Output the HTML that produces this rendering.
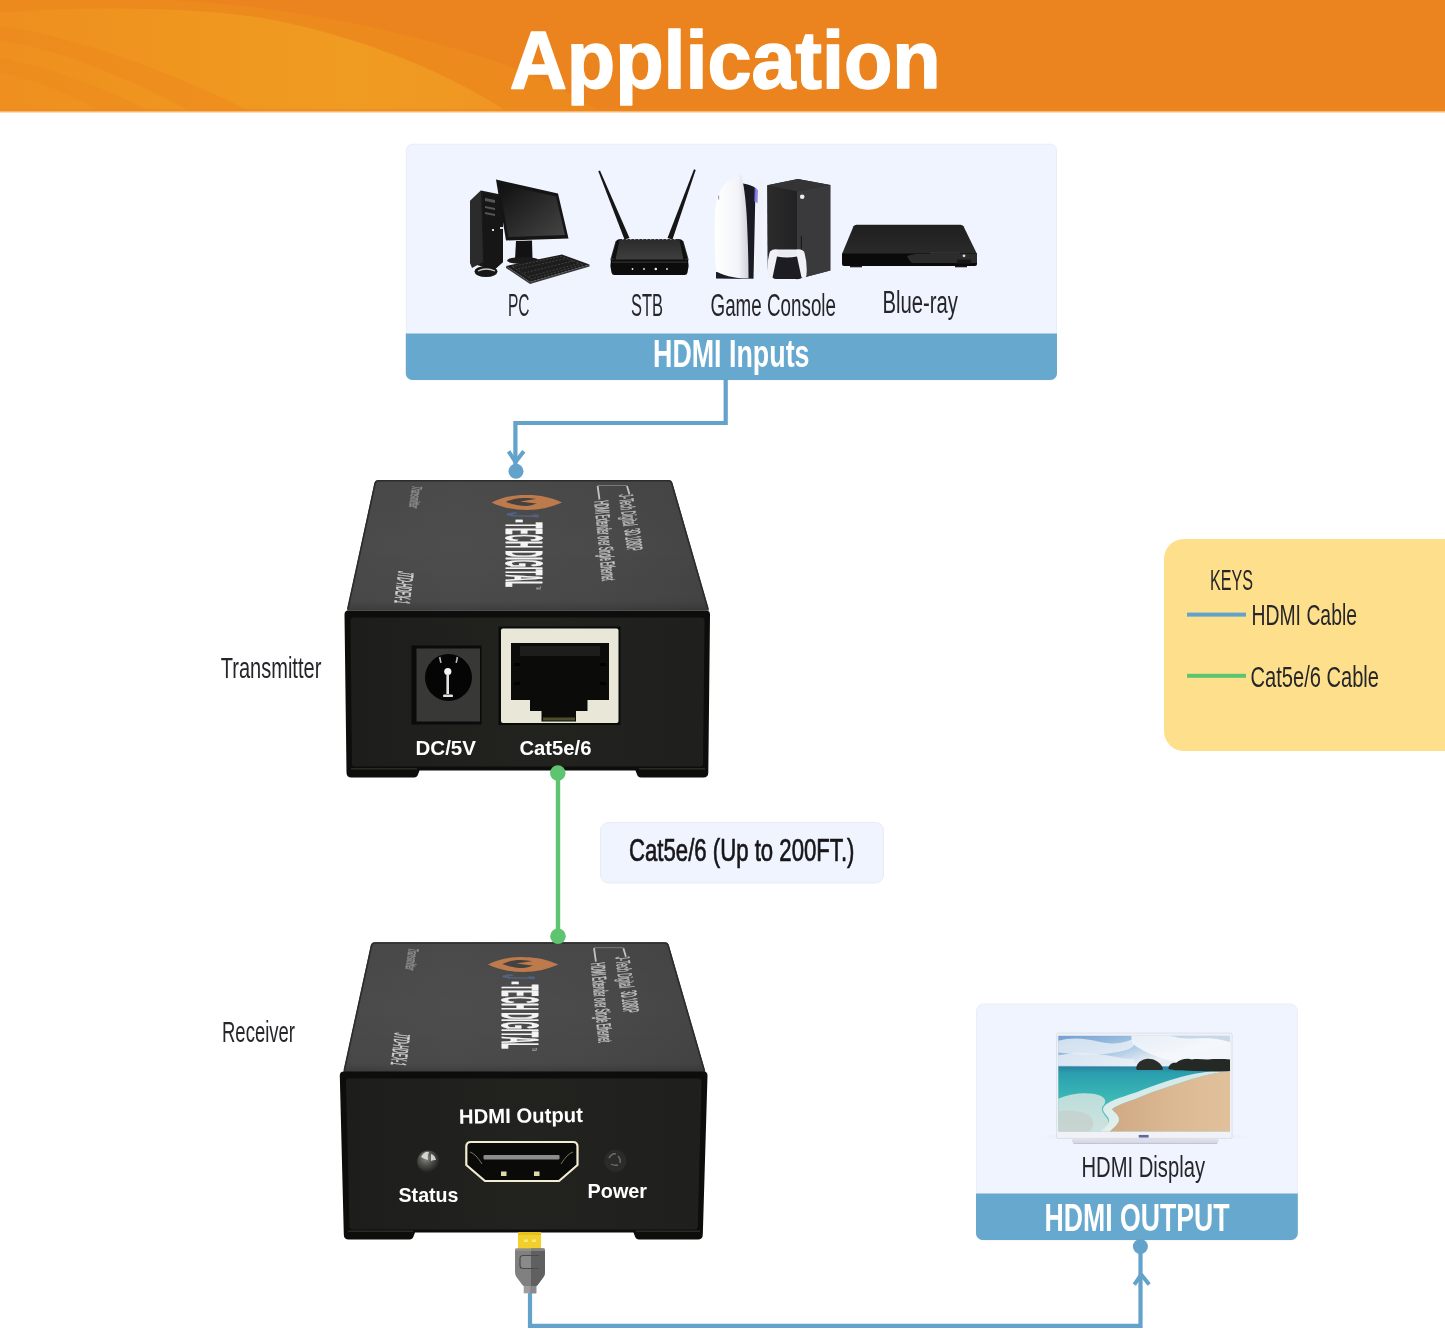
<!DOCTYPE html>
<html lang="en">
<head>
<meta charset="utf-8">
<title>Application</title>
<style>
html,body{margin:0;padding:0;background:#fff;}
body{width:1445px;height:1331px;overflow:hidden;position:relative;font-family:"Liberation Sans",sans-serif;}
svg{position:absolute;left:0;top:0;display:block;will-change:transform;}
text{font-family:"Liberation Sans",sans-serif;}
.lbl{fill:#26262a;}
.wb{fill:#fff;font-weight:bold;}
</style>
</head>
<body>
<svg width="1445" height="1331" viewBox="0 0 1445 1331">
<defs>
  <linearGradient id="hdrG" x1="0" y1="0" x2="0" y2="1">
    <stop offset="0" stop-color="#ec8420"/>
    <stop offset="0.5" stop-color="#ee8a20"/>
    <stop offset="1" stop-color="#f08c1f"/>
  </linearGradient>
  <linearGradient id="hdrSw" x1="0" y1="0" x2="1" y2="0">
    <stop offset="0" stop-color="#ee8f1f"/>
    <stop offset="0.35" stop-color="#ef961f"/>
    <stop offset="0.7" stop-color="#f09b22"/>
    <stop offset="1" stop-color="#ef9622"/>
  </linearGradient>
  <linearGradient id="hdrFade" x1="0" y1="0" x2="0" y2="1">
    <stop offset="0" stop-color="#f3a64e"/>
    <stop offset="1" stop-color="#ffffff"/>
  </linearGradient>
</defs>
<defs>
  <linearGradient id="topG" x1="0" y1="0" x2="1" y2="0">
    <stop offset="0" stop-color="#4a4a4a"/>
    <stop offset="0.3" stop-color="#4d4d4d"/>
    <stop offset="0.7" stop-color="#4a4a4a"/>
    <stop offset="1" stop-color="#454545"/>
  </linearGradient>
  <linearGradient id="topV" x1="0" y1="0" x2="0" y2="1">
    <stop offset="0" stop-color="#000" stop-opacity="0.04"/>
    <stop offset="0.5" stop-color="#000" stop-opacity="0"/>
    <stop offset="0.93" stop-color="#000" stop-opacity="0.04"/>
    <stop offset="1" stop-color="#000" stop-opacity="0.2"/>
  </linearGradient>
  <linearGradient id="frontG" x1="0" y1="0" x2="1" y2="0">
    <stop offset="0" stop-color="#1d1e1b"/>
    <stop offset="0.5" stop-color="#22231f"/>
    <stop offset="1" stop-color="#1f201d"/>
  </linearGradient>
  <radialGradient id="ledG" cx="0.4" cy="0.35" r="0.7">
    <stop offset="0" stop-color="#8a8a86"/>
    <stop offset="0.5" stop-color="#4a4a47"/>
    <stop offset="1" stop-color="#1a1a18"/>
  </radialGradient>
</defs>
<!-- ===== header band ===== -->
<g id="header">
  <rect x="0" y="0" width="1445" height="111" fill="#eb841e"/>
  <path d="M0,0 H173 C300,8 430,34 540,78 L600,111 H0 Z" fill="#ed8a1e"/>
  <path d="M0,12.5 C90,6 190,7 262,18 C340,32 430,62 506,111 H0 Z" fill="url(#hdrSw)"/>
  <path d="M0,26 C60,34 150,62 250,111 H190 C120,74 60,50 0,40 Z" fill="#ec891d" opacity="0.55"/>
  <path d="M0,58 C50,68 100,86 150,111 H100 C70,94 30,78 0,72 Z" fill="#ec891d" opacity="0.5"/>
  <rect x="0" y="109" width="1445" height="2" fill="#ee8720" opacity="0.6"/>
  <rect x="0" y="111" width="1445" height="2.5" fill="url(#hdrFade)"/>
  <text x="509.7" y="88" class="wb" font-size="82" textLength="431" lengthAdjust="spacingAndGlyphs" stroke="#fff" stroke-width="1.6" stroke-linejoin="round">Application</text>
</g>
<!-- ===== HDMI inputs panel ===== -->
<g id="inputs">
  <rect x="406.3" y="144.2" width="650.2" height="235.6" rx="6" ry="6" fill="#f0f4fe" stroke="#ebedf4" stroke-width="1"/>
  <path d="M405.8,333.6 H1057 V373.5 a6.5,6.5 0 0 1 -6.5,6.5 H412.3 a6.5,6.5 0 0 1 -6.5,-6.5 Z" fill="#67a8cf"/>
  <text x="653" y="366.8" class="wb" font-size="39.5" textLength="156.5" lengthAdjust="spacingAndGlyphs">HDMI Inputs</text>
  <text x="508" y="315.5" class="lbl" font-size="31" textLength="21.5" lengthAdjust="spacingAndGlyphs">PC</text>
  <text x="631" y="315.5" class="lbl" font-size="31" textLength="32" lengthAdjust="spacingAndGlyphs">STB</text>
  <text x="710.5" y="315.5" class="lbl" font-size="31" textLength="125.5" lengthAdjust="spacingAndGlyphs">Game Console</text>
  <text x="882.5" y="313" class="lbl" font-size="31" textLength="75.5" lengthAdjust="spacingAndGlyphs">Blue-ray</text>
</g>

<!-- ===== HDMI output panel ===== -->
<g id="output">
  <rect x="976.5" y="1004" width="320.8" height="236" rx="7" ry="7" fill="#f0f4fe" stroke="#ebedf4" stroke-width="1"/>
  <path d="M976,1193.5 H1297.8 V1233.5 a6.5,6.5 0 0 1 -6.5,6.5 H982.5 a6.5,6.5 0 0 1 -6.5,-6.5 Z" fill="#67a8cf"/>
  <text x="1044.5" y="1230.5" class="wb" font-size="39" textLength="185" lengthAdjust="spacingAndGlyphs">HDMI OUTPUT</text>
  <text x="1081.5" y="1177.3" class="lbl" font-size="29.5" textLength="123.5" lengthAdjust="spacingAndGlyphs">HDMI Display</text>
</g>

<!-- ===== keys legend ===== -->
<g id="keys">
  <path d="M1445,539 H1184 a20,20 0 0 0 -20,20 V731 a20,20 0 0 0 20,20 H1445 Z" fill="#fddf8c"/>
  <text x="1210" y="590.3" class="lbl" font-size="29.5" textLength="43" lengthAdjust="spacingAndGlyphs">KEYS</text>
  <rect x="1187" y="612.6" width="59" height="4" fill="#62a3cc"/>
  <text x="1251.5" y="625.4" class="lbl" font-size="29.5" textLength="105.5" lengthAdjust="spacingAndGlyphs">HDMI Cable</text>
  <rect x="1187" y="673.8" width="59" height="4" fill="#5fc46f"/>
  <text x="1250.5" y="686.7" class="lbl" font-size="29.5" textLength="128.5" lengthAdjust="spacingAndGlyphs">Cat5e/6 Cable</text>
</g>

<!-- ===== distance tag ===== -->
<g id="tag">
  <rect x="600.5" y="822.5" width="283" height="60.5" rx="8" ry="8" fill="#f0f4fe" stroke="#e9ebf3" stroke-width="1"/>
  <text x="629" y="860.5" font-size="30.5" textLength="225.5" lengthAdjust="spacingAndGlyphs" fill="#17171a" stroke="#17171a" stroke-width="0.7">Cat5e/6 (Up to 200FT.)</text>
</g>

<!-- ===== side labels ===== -->
<text x="220.8" y="678.2" class="lbl" font-size="30" textLength="100.5" lengthAdjust="spacingAndGlyphs">Transmitter</text>
<text x="222" y="1041.6" class="lbl" font-size="29.5" textLength="73" lengthAdjust="spacingAndGlyphs">Receiver</text>
<!-- ===== connector lines ===== -->
<g id="wires" fill="none" stroke-linejoin="miter">
  <path d="M725.7,379 V423 H515.4 V466" stroke="#62a2cb" stroke-width="4.2"/>
  <path d="M508.6,451.3 L515.5,462 L523.8,451.3" stroke="#62a2cb" stroke-width="4"/>
  <circle cx="516" cy="471.3" r="7.5" fill="#62a2cb"/>
  <path d="M558,772 V936" stroke="#5fc46f" stroke-width="4.4"/>
  <path d="M530,1290 V1325.8 H1140.5 V1248" stroke="#62a2cb" stroke-width="4.2"/>
  <path d="M1134.3,1284.6 L1141.2,1274.6 L1149.2,1284.6" stroke="#62a2cb" stroke-width="4"/>
  <circle cx="1140.4" cy="1246.5" r="7.5" fill="#62a2cb"/>
</g>
<!-- ===== transmitter unit ===== -->
<g id="tx">
  <path d="M378.5,480 H668.5 Q671.6,480 672.4,483 L709,610.5 H347 L374.4,483 Q375.2,480 378.5,480 Z" fill="url(#topG)"/>
  <path d="M378.5,480 H668.5 Q671.6,480 672.4,483 L709,610.5 H347 L374.4,483 Q375.2,480 378.5,480 Z" fill="url(#topV)"/>
  <path d="M347.8,609 L375.2,483.3 Q376,480.8 378.5,480.8 H668.5 Q671,480.8 671.7,483.3 L708,609" fill="none" stroke="#2c2c2c" stroke-width="1.6"/>
  <!-- flame mark -->
  <path d="M491.5,502.5 C503,496.5 516,494.5 528,495 C540,495 552,497.5 562,502.5 C552,507 540,510 527,510 C514,510 502,507.5 491.5,502.5 Z" fill="#bd7a4c"/>
  <path d="M506,502 C512,498.5 520,497.5 527,498 C532,498 538,499 542,500.5 C538,503 533,505.5 527,506 C519,506 512,504.5 506,502 Z" fill="#45413e"/>
  <path d="M520,501.5 L545,497.5 L560,502.5 L540,504 Z" fill="#bd7a4c"/>
  <text transform="translate(507,512.5) rotate(90)" font-size="44" font-weight="bold" font-style="italic" textLength="4.5" lengthAdjust="spacingAndGlyphs" fill="#5a73a8" stroke="#5a73a8" stroke-width="1.4" vector-effect="non-scaling-stroke" opacity="0.6">J</text>
  <!-- printed legends -->
  <g fill="#f4f4f4" font-weight="bold" stroke="#f4f4f4" stroke-width="1" vector-effect="non-scaling-stroke" stroke-linejoin="round">
    <text transform="translate(506,519.5) rotate(90)" font-size="52" textLength="67.5" lengthAdjust="spacingAndGlyphs">-TECH DIGITAL</text>
    <text transform="translate(536,586.5) rotate(90)" font-size="8" textLength="3" lengthAdjust="spacingAndGlyphs" opacity="0.6" stroke="none">TM</text>
  </g>
  <g fill="#e0e0e0" stroke="#e0e0e0" stroke-width="0.5" vector-effect="non-scaling-stroke">
    <text transform="translate(398.5,570.5) rotate(97)" font-size="22" textLength="32.5" lengthAdjust="spacingAndGlyphs" opacity="0.9">JTD-HDEX-1</text>
    <text transform="translate(594.5,501.5) rotate(84.5)" font-size="20" textLength="80" lengthAdjust="spacingAndGlyphs" opacity="0.8">HDMI Extender over Single Ethernet</text>
    <text transform="translate(619,495) rotate(82)" font-size="20" font-style="italic" textLength="32" lengthAdjust="spacingAndGlyphs" opacity="0.75">J-Tech Digital</text>
    <text transform="translate(624.5,530) rotate(82)" font-size="22" textLength="22" lengthAdjust="spacingAndGlyphs" opacity="0.8">3D 1080P</text>
    <text transform="translate(412.5,485.5) rotate(99)" font-size="14" textLength="22" lengthAdjust="spacingAndGlyphs" opacity="0.45">Transmitter</text>
  </g>
  <path d="M599.5,499.5 L597.6,486 M627,486 L629.5,494.5" fill="none" stroke="#d8d8d8" stroke-width="1.8" opacity="0.85"/>
  <path d="M597.6,485.5 H627" fill="none" stroke="#d8d8d8" stroke-width="1" opacity="0.35"/>

  <!-- front face -->
  <path d="M344.5,614.5 q0,-4 4,-4 H706 q4,0 4,4 L708.3,772.5 q0,5 -5,5 H641 q-3,0 -4,-3 l-1.5,-4 H419.5 l-1.5,4 q-1,3 -4,3 H351.5 q-5,0 -5,-5 Z" fill="#0d0d0c"/>
  <path d="M353.5,617.5 H701.5 q3,0 3,3 L703,763.5 q0,3 -3,3 H355 q-3,0 -3,-3 L350.5,620.5 q0,-3 3,-3 Z" fill="url(#frontG)"/>
  <rect x="351" y="768" width="66" height="1.5" fill="#2a2a28"/>
  <rect x="639" y="768" width="66" height="1.5" fill="#2a2a28"/>
  <!-- DC jack -->
  <rect x="411.5" y="645.5" width="70" height="79" fill="#0b0b0b"/>
  <rect x="416.5" y="648.5" width="63.5" height="73" fill="#383836"/>
  <circle cx="448.5" cy="677.5" r="23.5" fill="#050505"/>
  <circle cx="447.8" cy="671.5" r="3.6" fill="#f4f4f4"/>
  <rect x="446.4" y="674" width="2.6" height="20" fill="#e2e2e2"/>
  <rect x="443" y="694.5" width="10" height="2.6" rx="1.2" fill="#e2e2e2"/>
  <rect x="439.5" y="657" width="1.6" height="6" fill="#bbb" transform="rotate(-12 440 660)"/>
  <rect x="456" y="657" width="1.6" height="6" fill="#bbb" transform="rotate(12 457 660)"/>
  <!-- RJ45 -->
  <rect x="498.5" y="626.5" width="122" height="98.5" fill="#0a0a0a"/>
  <rect x="501" y="628.5" width="117.5" height="94.5" rx="2" fill="#e9e7d8"/>
  <path d="M511,643 H609 V700 H587.5 V711 H576 V721.5 H541.5 V711 H530 V700 H511 Z" fill="#0b0b0a"/>
  <path d="M514,663 h6 v3 h-6 z M600,663 h6 v3 h-6 z M514,682 h6 v3 h-6 z M600,682 h6 v3 h-6 z" fill="#000"/>
  <rect x="520" y="646" width="80" height="10" fill="#1d1d1c"/>
  <rect x="543" y="717.5" width="32" height="3" fill="#6a6a3a" opacity="0.7"/>
  <text x="415.5" y="755" class="wb" font-size="20.8" textLength="60.5" lengthAdjust="spacingAndGlyphs">DC/5V</text>
  <text x="519.5" y="754.8" class="wb" font-size="20.8" textLength="72" lengthAdjust="spacingAndGlyphs">Cat5e/6</text>
</g>
<circle cx="557.8" cy="773" r="7.8" fill="#5fc46f"/>
<!-- ===== receiver unit ===== -->
<g id="rx">
<g transform="translate(-3.6,462.2) translate(0,480) scale(1,0.996) translate(0,-480)">
  <path d="M378.5,480 H668.5 Q671.6,480 672.4,483 L709,610.5 H347 L374.4,483 Q375.2,480 378.5,480 Z" fill="url(#topG)"/>
  <path d="M378.5,480 H668.5 Q671.6,480 672.4,483 L709,610.5 H347 L374.4,483 Q375.2,480 378.5,480 Z" fill="url(#topV)"/>
  <path d="M347.8,609 L375.2,483.3 Q376,480.8 378.5,480.8 H668.5 Q671,480.8 671.7,483.3 L708,609" fill="none" stroke="#2c2c2c" stroke-width="1.6"/>
  <!-- flame mark -->
  <path d="M491.5,502.5 C503,496.5 516,494.5 528,495 C540,495 552,497.5 562,502.5 C552,507 540,510 527,510 C514,510 502,507.5 491.5,502.5 Z" fill="#bd7a4c"/>
  <path d="M506,502 C512,498.5 520,497.5 527,498 C532,498 538,499 542,500.5 C538,503 533,505.5 527,506 C519,506 512,504.5 506,502 Z" fill="#45413e"/>
  <path d="M520,501.5 L545,497.5 L560,502.5 L540,504 Z" fill="#bd7a4c"/>
  <text transform="translate(507,512.5) rotate(90)" font-size="44" font-weight="bold" font-style="italic" textLength="4.5" lengthAdjust="spacingAndGlyphs" fill="#5a73a8" stroke="#5a73a8" stroke-width="1.4" vector-effect="non-scaling-stroke" opacity="0.6">J</text>
  <!-- printed legends -->
  <g fill="#f4f4f4" font-weight="bold" stroke="#f4f4f4" stroke-width="1" vector-effect="non-scaling-stroke" stroke-linejoin="round">
    <text transform="translate(506,519.5) rotate(90)" font-size="52" textLength="67.5" lengthAdjust="spacingAndGlyphs">-TECH DIGITAL</text>
    <text transform="translate(536,586.5) rotate(90)" font-size="8" textLength="3" lengthAdjust="spacingAndGlyphs" opacity="0.6" stroke="none">TM</text>
  </g>
  <g fill="#e0e0e0" stroke="#e0e0e0" stroke-width="0.5" vector-effect="non-scaling-stroke">
    <text transform="translate(398.5,570.5) rotate(97)" font-size="22" textLength="32.5" lengthAdjust="spacingAndGlyphs" opacity="0.9">JTD-HDEX-1</text>
    <text transform="translate(594.5,501.5) rotate(84.5)" font-size="20" textLength="80" lengthAdjust="spacingAndGlyphs" opacity="0.8">HDMI Extender over Single Ethernet</text>
    <text transform="translate(619,495) rotate(82)" font-size="20" font-style="italic" textLength="32" lengthAdjust="spacingAndGlyphs" opacity="0.75">J-Tech Digital</text>
    <text transform="translate(624.5,530) rotate(82)" font-size="22" textLength="22" lengthAdjust="spacingAndGlyphs" opacity="0.8">3D 1080P</text>
    <text transform="translate(412.5,485.5) rotate(99)" font-size="14" textLength="22" lengthAdjust="spacingAndGlyphs" opacity="0.45">Transmitter</text>
  </g>
  <path d="M599.5,499.5 L597.6,486 M627,486 L629.5,494.5" fill="none" stroke="#d8d8d8" stroke-width="1.8" opacity="0.85"/>
  <path d="M597.6,485.5 H627" fill="none" stroke="#d8d8d8" stroke-width="1" opacity="0.35"/>

</g>
  <!-- front face -->
  <path d="M339.8,1075.5 q0,-4 4,-4 H703.5 q4,0 4,4 L702.8,1234.5 q0,5 -5,5 H639 q-3,0 -4,-3 l-1.5,-4 H415 l-1.5,4 q-1,3 -4,3 H348.8 q-5,0 -5,-5 Z" fill="#0d0d0c"/>
  <path d="M349,1078.5 H698.5 q3,0 3,3 L697.8,1226.5 q0,3 -3,3 H352.5 q-3,0 -3,-3 L346,1081.5 q0,-3 3,-3 Z" fill="url(#frontG)"/>
  <rect x="348" y="1230.5" width="65" height="1.5" fill="#2a2a28"/>
  <rect x="636" y="1230.5" width="64" height="1.5" fill="#2a2a28"/>
  <!-- HDMI socket -->
  <path d="M471,1142 H573 Q577.5,1142 577.5,1146.5 V1165 L559,1181 H485 L466.3,1165 V1146.5 Q466.3,1142 471,1142 Z" fill="#0a0a08" stroke="#f3ecd0" stroke-width="2.2" stroke-linejoin="round"/>
  <rect x="483.5" y="1155" width="76" height="4.6" rx="1" fill="#8d8d88"/>
  <path d="M470,1152 q6,2 12,12 M573,1152 q-6,2 -12,12" stroke="#77746a" stroke-width="1" fill="none"/>
  <rect x="501" y="1171.5" width="5.5" height="4.5" fill="#e3d9a8"/>
  <rect x="534" y="1171.5" width="5.5" height="4.5" fill="#e3d9a8"/>
  <!-- LEDs -->
  <circle cx="428.2" cy="1161.5" r="11" fill="url(#ledG)"/>
  <path d="M421,1157 q3,-6 8,-5 q-2,4 -1,8 q-4,-1 -7,-3 z M431,1154 q4,1 5,6 q-3,0 -5,1 z" fill="#e6e6e0" opacity="0.85"/>
  <circle cx="615.4" cy="1160.7" r="11" fill="#2b2b29"/>
  <path d="M609,1158 q3,-5 7,-4 M618,1156 q3,3 2,7 M611,1164 q3,2 7,1" stroke="#6c6c68" stroke-width="1.5" fill="none"/>
  <g transform="rotate(-0.8 520 1122)">
  <text x="459" y="1122.8" class="wb" font-size="20.6" textLength="124" lengthAdjust="spacingAndGlyphs">HDMI Output</text>
  </g>
  <text x="398.5" y="1202" class="wb" font-size="20.6" textLength="60" lengthAdjust="spacingAndGlyphs">Status</text>
  <text x="587.6" y="1198" class="wb" font-size="20.6" textLength="59.5" lengthAdjust="spacingAndGlyphs">Power</text>
</g>
<circle cx="558" cy="936.2" r="7.8" fill="#5fc46f"/>
<!-- HDMI plug -->
<g id="plug">
  <rect x="518" y="1232" width="23" height="17.5" fill="#f3cf2b"/>
  <rect x="518" y="1232" width="23" height="3" fill="#e0b820" opacity="0.7"/>
  <rect x="524" y="1239.5" width="4" height="2.5" fill="#f9e88a"/>
  <rect x="532" y="1239.5" width="4" height="2.5" fill="#f9e88a"/>
  <path d="M516.5,1248.5 H543.5 Q545,1248.5 545,1250.5 V1272 Q545,1275 543.5,1277 L538,1284.5 Q537,1286 535.5,1286 H524.5 Q523,1286 522,1284.5 L516.5,1277 Q515,1275 515,1272 V1250.5 Q515,1248.5 516.5,1248.5 Z" fill="#808080"/>
  <path d="M531,1248.5 H543.5 Q545,1248.5 545,1250.5 V1272 Q545,1275 543.5,1277 L538,1284.5 Q537,1286 535.5,1286 H531 Z" fill="#606060"/>
  <rect x="515" y="1248.5" width="30" height="2.5" fill="#9a9a9a" opacity="0.6"/>
  <path d="M531,1255.5 h-8 q-3,0 -3,3 v7 q0,3 3,3 h8" fill="#8a8a8a" stroke="#4a4a4a" stroke-width="1.2"/>
  <path d="M531,1255.5 h8 M531,1268.5 h8" stroke="#4c4c4c" stroke-width="1" fill="none"/>
  <rect x="523.7" y="1286" width="12.6" height="7.3" fill="#9c9c9c"/>
  <rect x="530" y="1286" width="6.3" height="7.3" fill="#8a8a8a"/>
</g>
<!-- ===== source device icons ===== -->
<defs>
  <linearGradient id="scrG" x1="0" y1="0" x2="1" y2="1">
    <stop offset="0" stop-color="#101010"/>
    <stop offset="0.5" stop-color="#2a2a2a"/>
    <stop offset="1" stop-color="#454545"/>
  </linearGradient>
  <linearGradient id="ps5G" x1="0" y1="0" x2="1" y2="0">
    <stop offset="0" stop-color="#ffffff"/>
    <stop offset="0.7" stop-color="#f3f4f8"/>
    <stop offset="1" stop-color="#cfd2dc"/>
  </linearGradient>
  <linearGradient id="xbL" x1="0" y1="0" x2="1" y2="0">
    <stop offset="0" stop-color="#2b2b2b"/>
    <stop offset="1" stop-color="#222224"/>
  </linearGradient>
  <linearGradient id="bdG" x1="0" y1="0" x2="0" y2="1">
    <stop offset="0" stop-color="#1f1f1f"/>
    <stop offset="1" stop-color="#2a2a2a"/>
  </linearGradient>
  <linearGradient id="rtG" x1="0" y1="0" x2="0" y2="1">
    <stop offset="0" stop-color="#2a2a2a"/>
    <stop offset="1" stop-color="#404040"/>
  </linearGradient>
</defs>
<g id="pc">
  <!-- tower -->
  <path d="M470,201 L481,190.5 L503,195 L503,262 L494,270 L470,263 Z" fill="#1a1a1a"/>
  <path d="M470,201 L481,190.5 L483,262 L472,268 L470,263 Z" fill="#2b2b2b"/>
  <path d="M483,193 L503,196.5 L503,262 L494,270 L484,266 Z" fill="#161616"/>
  <path d="M485,198 l10,2 v3 l-10,-2 z M485,206 l10,2 v2 l-10,-2 z M485,212 l10,2 v2 l-10,-2 z" fill="#555"/>
  <rect x="492" y="229" width="2" height="2" fill="#ddd"/>
  <rect x="500" y="227" width="3" height="2" fill="#ddd"/>
  <!-- monitor -->
  <path d="M496,179.5 L558,193.5 L568.5,238.5 L506,240.5 Z" fill="#151515"/>
  <path d="M499,184 L556,196.5 L565,235 L508.5,237 Z" fill="url(#scrG)"/>
  <path d="M516,241 L532,240.5 L532.5,259 L515,259.5 Z" fill="#121212"/>
  <ellipse cx="523" cy="260.5" rx="16" ry="3.5" fill="#1a1a1a"/>
  <!-- keyboard -->
  <path d="M506,266 L562,254.5 L589.5,264.5 L530,282 Z" fill="#1d1d1d"/>
  <path d="M506,266 L530,282 L530,284 L506,268 Z M530,282 L589.5,264.5 L589.5,266.5 L530,284 Z" fill="#3a3a3a"/>
  <path d="M512,266.5 L561,256.5 L583,264.5 L531,279 Z" fill="none" stroke="#4a4a4a" stroke-width="0.8" stroke-dasharray="2 1.5"/>
  <path d="M518,269 L566,258.5 M524,273 L573,261 M529,276.5 L579,263.5" stroke="#484848" stroke-width="0.8" stroke-dasharray="2 1.5" fill="none"/>
  <!-- mouse -->
  <ellipse cx="486" cy="271.5" rx="11.5" ry="5.5" fill="#161616"/>
  <path d="M478,271 q8,-4 17,0" stroke="#c8c8c8" stroke-width="1.3" fill="none"/>
</g>
<g id="stb">
  <path d="M598.3,171.3 L600,170.5 L629.5,238 L624.5,239.5 Z" fill="#161616"/>
  <path d="M695.7,170 L694,169.3 L667.5,238 L672.5,239.5 Z" fill="#161616"/>
  <path d="M620,239 H679 Q682,239 683.5,241.5 L688.5,259 Q689,261 687,261 H612 Q610,261 610.5,259 L615.5,241.5 Q617,239 620,239 Z" fill="url(#rtG)"/>
  <path d="M622,239.5 h55" stroke="#8a8a8a" stroke-width="1.2" stroke-dasharray="1.5 2.5" fill="none"/>
  <path d="M611.5,258 L616.5,241 Q617.5,239.5 619.5,239.5 L615.5,260 Z M687.5,258 L682.5,241 Q681.5,239.5 679.5,239.5 L683.5,260 Z" fill="#101010"/>
  <path d="M611,259.5 H688 Q689.5,266 687.5,272.5 Q687,275 684.5,275 H614.5 Q612,275 611.5,272.5 Q609.5,266 611,259.5 Z" fill="#0c0c0c"/>
  <rect x="612" y="261.5" width="75" height="1.2" fill="#333"/>
  <g fill="#ededed"><circle cx="632.5" cy="269" r="0.9"/><circle cx="644" cy="269" r="0.9"/><circle cx="655.8" cy="269" r="1.3"/><circle cx="667" cy="269" r="0.9"/></g>
</g>
<g id="console">
  <!-- PS5 -->
  <path d="M758.5,180 Q761.5,178.5 763,181 Q763.5,230 760,272 L755,276 Z" fill="#f1f2f8"/>
  <path d="M743,183.5 Q751,184.5 755.5,188 Q754.5,235 753.5,278.8 L744,278.5 Z" fill="#1a1a22"/>
  <path d="M754.5,187.5 q3,1 3.5,3 l-0.5,13 q-1.5,-2 -3.5,-2 z" fill="#6a66e0" opacity="0.75"/>
  <path d="M716,272 L748,274 L748.5,279 L716,278.5 Z" fill="#1b1b24"/>
  <path d="M741,174.5 C743.5,182 746,200 747,222 C748,245 748.5,262 748.5,278.6 C738,278.5 727,277 716.5,271.5 C714.5,255 714,232 715,212 C716,196 722,180 741,174.5 Z" fill="url(#ps5G)"/>
  <rect x="718" y="195.5" width="1.2" height="4" fill="#a4a6b6"/>
  <!-- Xbox -->
  <path d="M767.3,185.3 L797.9,179 L830.3,184.9 L830.3,270.6 L797,279.3 L767.8,269.6 Z" fill="#2a2a2a"/>
  <path d="M767.3,185.3 L797,191.2 L797,279.3 L767.8,269.6 Z" fill="url(#xbL)"/>
  <path d="M797,191.2 L830.3,184.9 L830.3,270.6 L797,279.3 Z" fill="#3a3a3c"/>
  <path d="M767.3,185.3 L797.9,179 L830.3,184.9 L797,191.2 Z" fill="#343434"/>
  <circle cx="802.2" cy="196.7" r="2.3" fill="#ececec"/>
  <rect x="800.8" y="236" width="1.2" height="20" fill="#1a1a1a"/>
  <!-- controller -->
  <path d="M770,251.5 Q773,248.5 778,249.5 H796 Q801,248.5 804,251.5 Q807.5,262 806.5,275 Q805.5,280 801.5,277.5 L796.5,266 H777.5 L772.5,277.5 Q768.5,280 767.5,275 Q766.5,262 770,251.5 Z" fill="#f0f1f6"/>
  <path d="M777,256.5 Q787,258.5 797,256.5 L801.5,277.5 Q799,279.5 797,279 H777 Q774.5,279.5 772.5,277.5 Z" fill="#1c1c22"/>
  <path d="M777.5,250.5 H796.5 L795.5,255.5 Q787,257.5 778.5,255.5 Z" fill="#e9eaf2"/>
</g>
<g id="bluray">
  <path d="M856.5,224.8 H960.5 Q962.5,224.8 963.5,226.3 L977,254 H842 L853.5,226.3 Q854.5,224.8 856.5,224.8 Z" fill="url(#bdG)"/>
  <path d="M842,253.5 H977 V264 Q977,266 975,266 H844 Q842,266 842,264 Z" fill="#0a0a0a"/>
  <path d="M907,256 Q911,254.5 916,254 H977 V263 H912 Q908.5,260 907,256 Z" fill="#2c2c2c"/>
  <rect x="930" y="252.5" width="30" height="1" fill="#3c3c3c"/>
  <circle cx="964" cy="255.8" r="1.4" fill="#dcdcdc"/>
  <rect x="957" y="259.5" width="14" height="4" fill="#161616"/>
  <rect x="850" y="266" width="12" height="1.3" fill="#1a1a1a"/>
  <rect x="955" y="266" width="12" height="1.3" fill="#1a1a1a"/>
</g>
<!-- ===== HDMI display (TV) ===== -->
<defs>
  <linearGradient id="skyG" x1="0" y1="0" x2="1" y2="0.6">
    <stop offset="0" stop-color="#6f9fd2"/>
    <stop offset="0.45" stop-color="#a9c6e4"/>
    <stop offset="0.75" stop-color="#e9eff5"/>
    <stop offset="1" stop-color="#dfe8f1"/>
  </linearGradient>
  <linearGradient id="seaG" x1="0" y1="0" x2="0" y2="1">
    <stop offset="0" stop-color="#2b7f9e"/>
    <stop offset="0.1" stop-color="#2a9fae"/>
    <stop offset="0.5" stop-color="#3cb9b6"/>
    <stop offset="1" stop-color="#8ccfc6"/>
  </linearGradient>
  <linearGradient id="sandG" x1="0" y1="0" x2="1" y2="0">
    <stop offset="0" stop-color="#cfa983"/>
    <stop offset="0.5" stop-color="#dbb892"/>
    <stop offset="1" stop-color="#e0c19c"/>
  </linearGradient>
  <radialGradient id="tvSh" cx="0.5" cy="0.5" r="0.5">
    <stop offset="0" stop-color="#b9c0d2" stop-opacity="0.6"/>
    <stop offset="1" stop-color="#b9c0d2" stop-opacity="0"/>
  </radialGradient>
  <clipPath id="tvClip"><rect x="62" y="80" width="1308" height="730"/></clipPath>
</defs>
<g id="tv" transform="translate(1050,1025) scale(0.13149)">
  <ellipse cx="720" cy="850" rx="800" ry="36" fill="url(#tvSh)"/>
  <rect x="50" y="62" width="1335" height="800" rx="8" fill="#f1f2f7"/>
  <rect x="50" y="62" width="1335" height="800" rx="8" fill="none" stroke="#d4d8e2" stroke-width="5"/>
  <g clip-path="url(#tvClip)">
    <rect x="62" y="80" width="1308" height="240" fill="url(#skyG)"/>
    <path d="M62,120 q140,-40 320,10 q120,30 240,-20 q60,40 -40,80 q-220,60 -520,20 z" fill="#eef3f8" opacity="0.75"/>
    <path d="M62,230 q200,-40 420,10 q80,20 160,20 v50 h-580 z" fill="#e9f0f6" opacity="0.8"/>
    <path d="M620,80 h750 v200 q-200,40 -420,0 q-180,-40 -300,-120 q-40,-40 -30,-80 z" fill="#f6f8fb" opacity="0.85"/>
    <path d="M900,80 q100,30 220,20 q120,-10 250,30 v-50 z" fill="#a9c4e0" opacity="0.6"/>
    <rect x="62" y="315" width="1308" height="500" fill="url(#seaG)"/>
    <path d="M1370,350 C1250,365 1150,390 1050,420 C930,460 800,500 690,545 C620,575 520,600 470,640 C500,670 540,700 520,740 C500,775 470,795 450,812 L1370,812 Z" fill="url(#sandG)"/>
    <path d="M1370,350 C1250,365 1150,390 1050,420 C930,460 800,500 690,545 C620,575 520,600 470,640 C500,670 540,700 520,740 C500,775 470,795 450,812 L380,812 C430,770 470,740 440,700 C410,660 380,640 430,600 C500,555 620,530 700,495 C820,445 960,400 1100,370 C1200,352 1290,342 1370,338 Z" fill="#f3f5f3" opacity="0.85"/>
    <path d="M62,560 C160,520 260,510 340,525 C420,540 440,580 400,620 C380,650 420,690 440,720 C460,760 420,790 390,812 L62,812 Z" fill="#dfe7e5" opacity="0.8"/>
    <path d="M62,660 C140,640 240,650 300,690 C350,730 330,780 300,812 L62,812 Z" fill="#c4cecb" opacity="0.7"/>
    <path d="M655,335 C655,300 680,268 730,258 C780,250 830,275 855,320 C860,332 860,340 850,342 L665,342 Z" fill="#2a2e2b"/>
    <path d="M900,330 C905,300 930,285 960,288 C990,262 1040,250 1080,262 C1120,255 1160,262 1200,262 C1250,258 1320,258 1370,262 L1370,350 C1250,358 1120,352 1000,345 C960,342 910,345 900,330 Z" fill="#252926"/>
  </g>
  <rect x="675" y="836" width="75" height="20" fill="#5d6a99"/>
  <path d="M170,868 H1275 Q1290,886 1270,904 H180 Q160,886 170,868 Z" fill="#dadde7"/>
  <path d="M180,900 H1270" stroke="#b8bdcb" stroke-width="7" fill="none"/>
</g>
</svg>
</body>
</html>
